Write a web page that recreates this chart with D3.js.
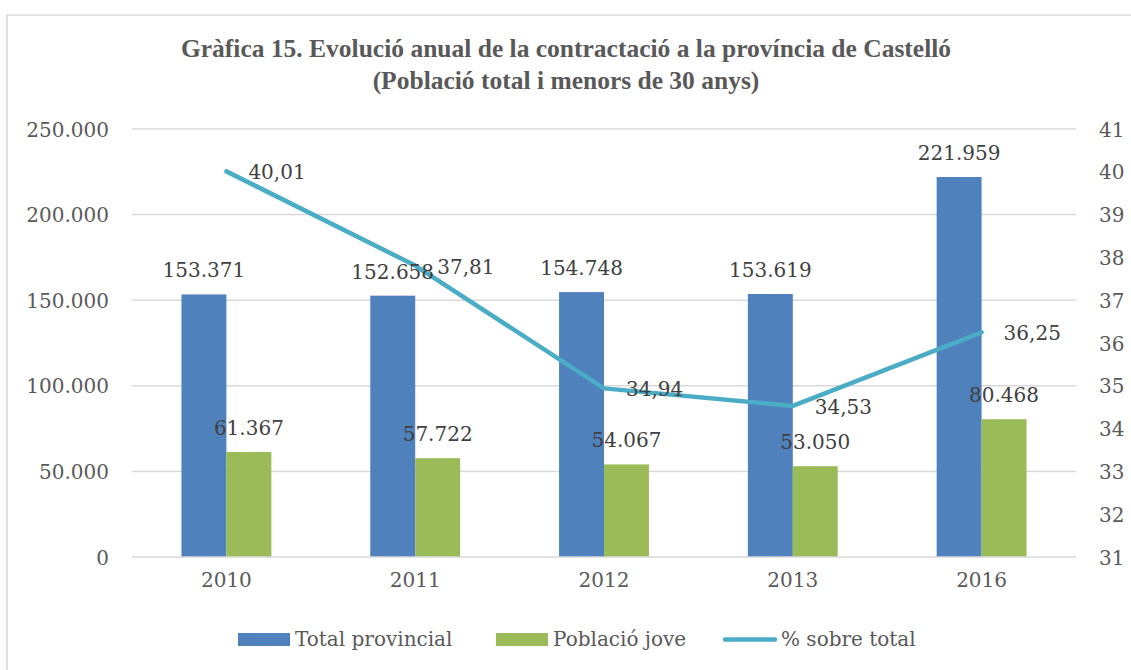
<!DOCTYPE html>
<html><head><meta charset="utf-8">
<script src="https://cdn.jsdelivr.net/npm/d3@7"></script>
<style>
html,body{margin:0;padding:0;background:#fff;}
svg{display:block;}
</style></head>
<body>
<svg id="chart" width="1131" height="670"></svg>
<script>
const categories = ["2010","2011","2012","2013","2016"];
const totalProvincial = [153371,152658,154748,153619,221959];
const poblacioJove = [61367,57722,54067,53050,80468];
const percentSobreTotal = [40.01,37.81,34.94,34.53,36.25];
const leftTicks = [0,50000,100000,150000,200000,250000];
const rightTicks = [31,32,33,34,35,36,37,38,39,40,41];
const seriesNames = ["Total provincial","Població jove","% sobre total"];
const titleLines = ["Gràfica 15. Evolució anual de la contractació a la província de Castelló","(Població total i menors de 30 anys)"];

const colBlue="#4F81BD", colGreen="#9BBB59", colLine="#4BACC6";
const serif = "'DejaVu Serif', serif";
const svg = d3.select("#chart");

// border
svg.append("rect").attr("x",7).attr("y",15).attr("width",1140).attr("height",680)
  .attr("fill","none").attr("stroke","#d9d9d9").attr("stroke-width",1.5);

const L=132, R=1076, T=129, B=557;
const x = d3.scaleBand().domain(categories).range([L,R]).padding(0);
const yL = d3.scaleLinear().domain([0,250000]).range([B,T]);
const yR = d3.scaleLinear().domain([31,41]).range([B,T]);
const fmt = v => d3.format(",")(v).replace(/,/g,".");
const fmtP = v => v.toFixed(2).replace(".",",");

// title
const tg = svg.append("g");
titleLines.forEach((t,i)=>{
  tg.append("text").attr("x",566).attr("y",57+i*32).attr("text-anchor","middle")
    .attr("font-family","'Liberation Serif', serif").attr("font-weight","bold")
    .attr("font-size",25.5).attr("fill","#595959").text(t);
});

// gridlines
svg.append("g").selectAll("line").data(leftTicks.filter(d=>d>0)).join("line")
  .attr("x1",L).attr("x2",R).attr("y1",d=>yL(d)).attr("y2",d=>yL(d))
  .attr("stroke","#d9d9d9").attr("stroke-width",1.5);

// left axis
const axL = svg.append("g").attr("transform",`translate(${L-23},0)`)
  .call(d3.axisLeft(yL).tickValues(leftTicks).tickFormat(fmt).tickSize(0).tickPadding(0));
axL.select(".domain").remove();
axL.selectAll("text").attr("font-family",serif).attr("font-size",20).attr("fill","#595959").attr("dy","0.35em");

// right axis
const axR = svg.append("g").attr("transform",`translate(${R+23},0)`)
  .call(d3.axisRight(yR).tickValues(rightTicks).tickSize(0).tickPadding(0));
axR.select(".domain").remove();
axR.selectAll("text").attr("font-family",serif).attr("font-size",20).attr("fill","#595959").attr("dy","0.35em");

// bars
const bw = x.bandwidth()*0.238;
const bars = svg.append("g");
bars.selectAll(".b1").data(categories).join("rect")
  .attr("x",d=>x(d)+x.bandwidth()/2-bw).attr("width",bw)
  .attr("y",(d,i)=>yL(totalProvincial[i])).attr("height",(d,i)=>B-yL(totalProvincial[i]))
  .attr("fill",colBlue);
bars.selectAll(".b2").data(categories).join("rect")
  .attr("x",d=>x(d)+x.bandwidth()/2).attr("width",bw)
  .attr("y",(d,i)=>yL(poblacioJove[i])).attr("height",(d,i)=>B-yL(poblacioJove[i]))
  .attr("fill",colGreen);

// bottom axis line
svg.append("line").attr("x1",L).attr("x2",R).attr("y1",B).attr("y2",B)
  .attr("stroke","#d9d9d9").attr("stroke-width",1.5);

// x axis
const axB = svg.append("g").attr("transform",`translate(0,${B})`)
  .call(d3.axisBottom(x).tickSize(0).tickPadding(0));
axB.select(".domain").remove();
axB.selectAll("text").attr("font-family",serif).attr("font-size",20).attr("fill","#595959").attr("dy","1.5em");

// line
const line = d3.line().x((d,i)=>x(categories[i])+x.bandwidth()/2).y(d=>yR(d));
svg.append("path").datum(percentSobreTotal).attr("d",line)
  .attr("fill","none").attr("stroke",colLine).attr("stroke-width",4.5).attr("stroke-linejoin","round").attr("stroke-linecap","round");

// labels
const lab = svg.append("g").attr("font-family",serif).attr("font-size",20).attr("fill","#404040");
lab.selectAll(".l1").data(categories).join("text")
  .attr("x",d=>x(d)+x.bandwidth()/2-bw/2).attr("y",(d,i)=>yL(totalProvincial[i])-17)
  .attr("text-anchor","middle").text((d,i)=>fmt(totalProvincial[i]));
lab.selectAll(".l2").data(categories).join("text")
  .attr("x",d=>x(d)+x.bandwidth()/2+bw/2).attr("y",(d,i)=>yL(poblacioJove[i])-17)
  .attr("text-anchor","middle").text((d,i)=>fmt(poblacioJove[i]));
lab.selectAll(".l3").data(categories).join("text")
  .attr("x",d=>x(d)+x.bandwidth()/2+22).attr("y",(d,i)=>yR(percentSobreTotal[i])+8)
  .attr("text-anchor","start").text((d,i)=>fmtP(percentSobreTotal[i]));

// legend
const lg = svg.append("g").attr("font-family",serif).attr("font-size",20).attr("fill","#595959");
const legX = [238,496,723];
lg.append("rect").attr("x",legX[0]).attr("y",633).attr("width",52).attr("height",13).attr("fill",colBlue);
lg.append("text").attr("x",legX[0]+57).attr("y",646).text(seriesNames[0]);
lg.append("rect").attr("x",legX[1]).attr("y",633).attr("width",52).attr("height",13).attr("fill",colGreen);
lg.append("text").attr("x",legX[1]+57).attr("y",646).text(seriesNames[1]);
lg.append("line").attr("x1",legX[2]+2).attr("x2",legX[2]+52).attr("y1",639.5).attr("y2",639.5)
  .attr("stroke",colLine).attr("stroke-width",4.5).attr("stroke-linecap","round");
lg.append("text").attr("x",legX[2]+58).attr("y",646).text(seriesNames[2]);
</script>
</body></html>
